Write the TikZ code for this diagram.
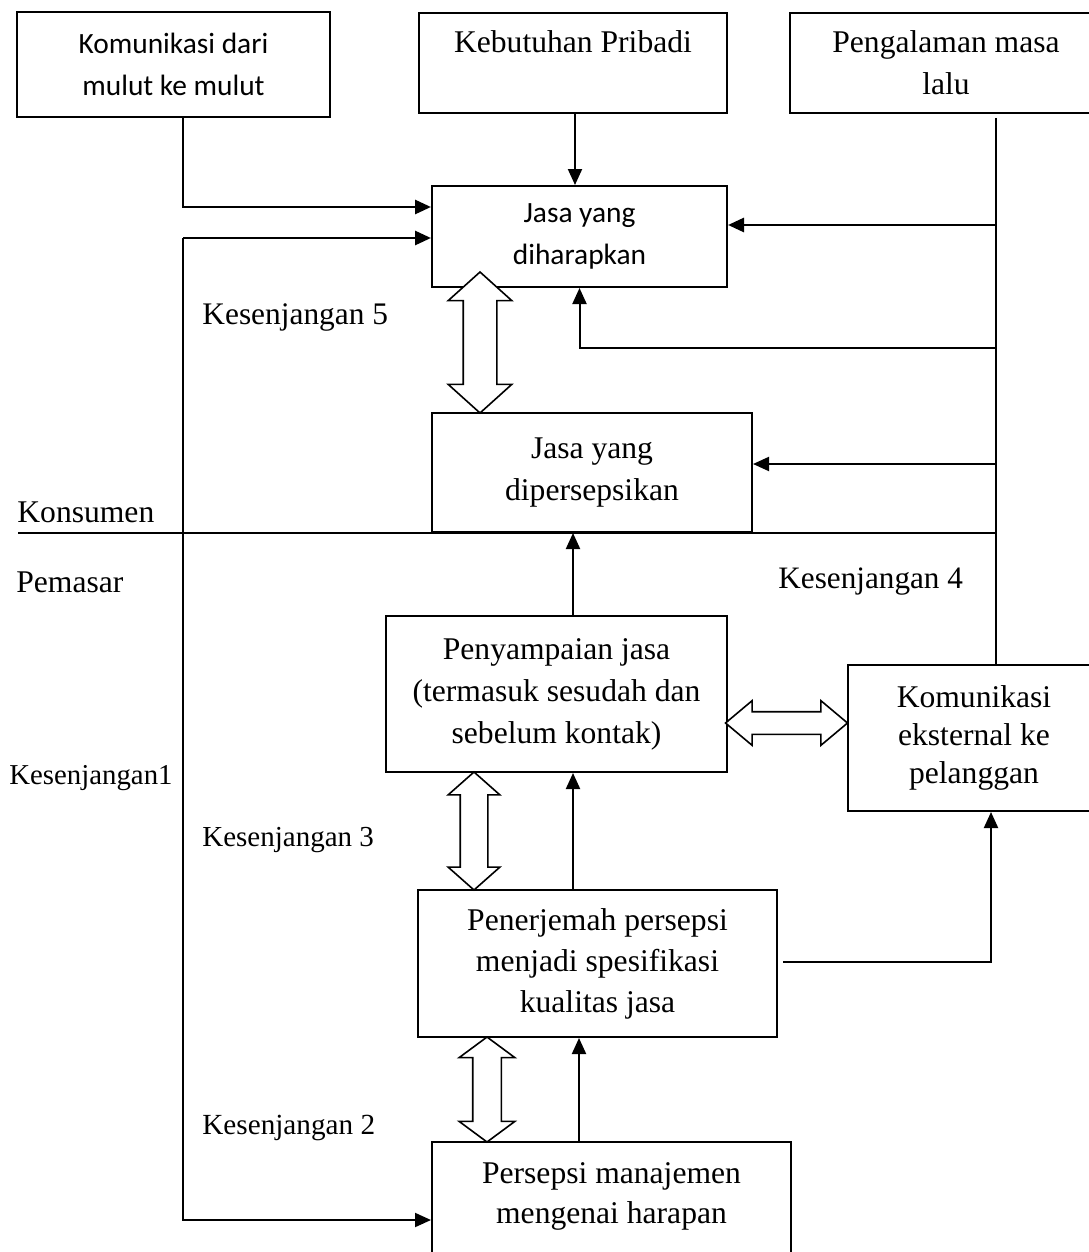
\documentclass[tikz,border=0pt]{standalone}
\usepackage{fontspec}
\setmainfont{Liberation Serif}
\newfontfamily\calibri{Carlito}
\usetikzlibrary{positioning,arrows.meta,shapes.arrows}
\tikzset{
  >={Triangle[length=8pt,width=7pt]},
  kotak/.style={draw, line width=1pt, align=center, inner sep=0pt,
    font=\fontsize{15.8}{21}\selectfont},
  garis/.style={line width=1pt},
  panah/.style={line width=1pt, ->},
  tebal/.style={line width=1.4pt, ->},
  celah/.style={double arrow, draw, fill=white, line width=0.8pt, inner xsep=0pt},
  teks/.style={anchor=west, inner sep=0pt, font=\fontsize{15.8}{21}\selectfont},
}
\begin{document}
\begin{tikzpicture}[x=0.5pt, y=-0.5pt]
  \useasboundingbox (0,0) rectangle (1088,1252);

  % ---------- sisi konsumen ----------
  \node[kotak, minimum width=156.5pt, minimum height=52.5pt,
    font=\calibri\fontsize{14.7}{21}\selectfont] (mulut) at (173.5,64.5)
    {Komunikasi dari\\ mulut ke mulut};
  \node[kotak, minimum width=154pt, minimum height=50pt] (pribadi) at (573,63)
    {Kebutuhan Pribadi\\ \mbox{}};
  \node[kotak, minimum width=156pt, minimum height=50pt] (lalu) at (946,63)
    {Pengalaman masa\\ lalu};
  \node[kotak, minimum width=147.5pt, minimum height=50.5pt,
    font=\calibri\fontsize{14.7}{21}\selectfont] (harap) at (579.5,236.5)
    {Jasa yang\\ diharapkan};
  \node[kotak, minimum width=160pt, minimum height=59.5pt] (persepsi) at (592,472.5)
    {Jasa yang\\ dipersepsikan};

  % ---------- sisi pemasar ----------
  \node[kotak, minimum width=170.5pt, minimum height=78pt] (sampai) at (556.5,694)
    {Penyampaian jasa\\ (termasuk sesudah dan\\ sebelum kontak)};
  \node[kotak, minimum width=126pt, minimum height=73pt,
    font=\fontsize{15.8}{19}\selectfont] (eksternal) at (974,738)
    {Komunikasi\\ eksternal ke\\ pelanggan};
  \node[kotak, minimum width=179.5pt, minimum height=73.5pt,
    font=\fontsize{15.8}{20.5}\selectfont] (terjemah) at (597.5,963.5)
    {Penerjemah persepsi\\ menjadi spesifikasi\\ kualitas jasa};
  \node[kotak, minimum width=179.5pt, minimum height=71pt,
    font=\fontsize{15.8}{20}\selectfont] (manajemen) at (611.5,1213)
    {Persepsi manajemen\\ mengenai harapan\\ \mbox{}};

  % label
  \node[teks] (konsumen) at (17,512) {Konsumen};
  \node[teks] (pemasar) at (16,582) {Pemasar};
  \node[teks, font=\fontsize{15.7}{19}\selectfont] (k5) at (202,317) {Kesenjangan 5};
  \node[teks, font=\fontsize{15.6}{19}\selectfont] (k4) at (778,582) {Kesenjangan 4};
  \node[teks, font=\fontsize{14.4}{18}\selectfont] (k1) at (9,778) {Kesenjangan1};
  \node[teks, font=\fontsize{14.5}{18}\selectfont] (k3) at (202,840) {Kesenjangan 3};
  \node[teks, font=\fontsize{14.6}{18}\selectfont] (k2) at (202,1128) {Kesenjangan 2};

  % rel kiri dan kanan
  \coordinate (kiri) at (183,238);
  \coordinate (kanan) at (996,118);

  \draw[tebal] (mulut.south -| 183,0) |- (harap.west |- 0,207);
  \draw[tebal] (kiri) -- (harap.west |- kiri);
  \draw[panah] (kiri) |- (manajemen.west |- 0,1220);
  \draw[panah] (pribadi.south -| 575,0) -- (harap.north -| 575,0);

  \draw[garis] (kanan) -- (kanan |- eksternal.north);
  \draw[tebal] (kanan |- 0,225) -- (harap.east |- 0,225);
  \draw[panah] (kanan |- 0,348) -| (harap.south);
  \draw[panah] (kanan |- 0,464) -- (persepsi.east |- 0,464);
  \draw[garis] (18,533) -- (kanan |- 0,533);

  \draw[panah] (sampai.north -| 573,0) -- (persepsi.south -| 573,0);
  \draw[panah] (terjemah.north -| 573,0) -- (sampai.south -| 573,0);
  \draw[panah] (manajemen.north -| 579,0) -- (terjemah.south -| 579,0);
  \draw[panah] ([xshift=2.5pt]terjemah.east |- 0,962) -| (eksternal.south -| 991,0);

  % panah kesenjangan
  \node[celah, rotate=90, minimum height=70.5pt, minimum width=31pt, inner ysep=8pt,
    double arrow head extend=7.5pt, double arrow tip angle=96] (c5) at (480,342.5) {};
  \node[celah, rotate=90, minimum height=59pt, minimum width=25pt, inner ysep=6.5pt,
    double arrow head extend=6pt, double arrow tip angle=97] (c3) at (474,831) {};
  \node[celah, rotate=90, minimum height=52.5pt, minimum width=27pt, inner ysep=6.75pt,
    double arrow head extend=6.75pt, double arrow tip angle=107] (c2) at (487,1089.5) {};
  \node[celah, minimum height=61pt, minimum width=21.5pt, inner ysep=5.25pt,
    double arrow head extend=5.5pt, double arrow tip angle=80] (c4) at (786.5,723) {};
\end{tikzpicture}
\end{document}
